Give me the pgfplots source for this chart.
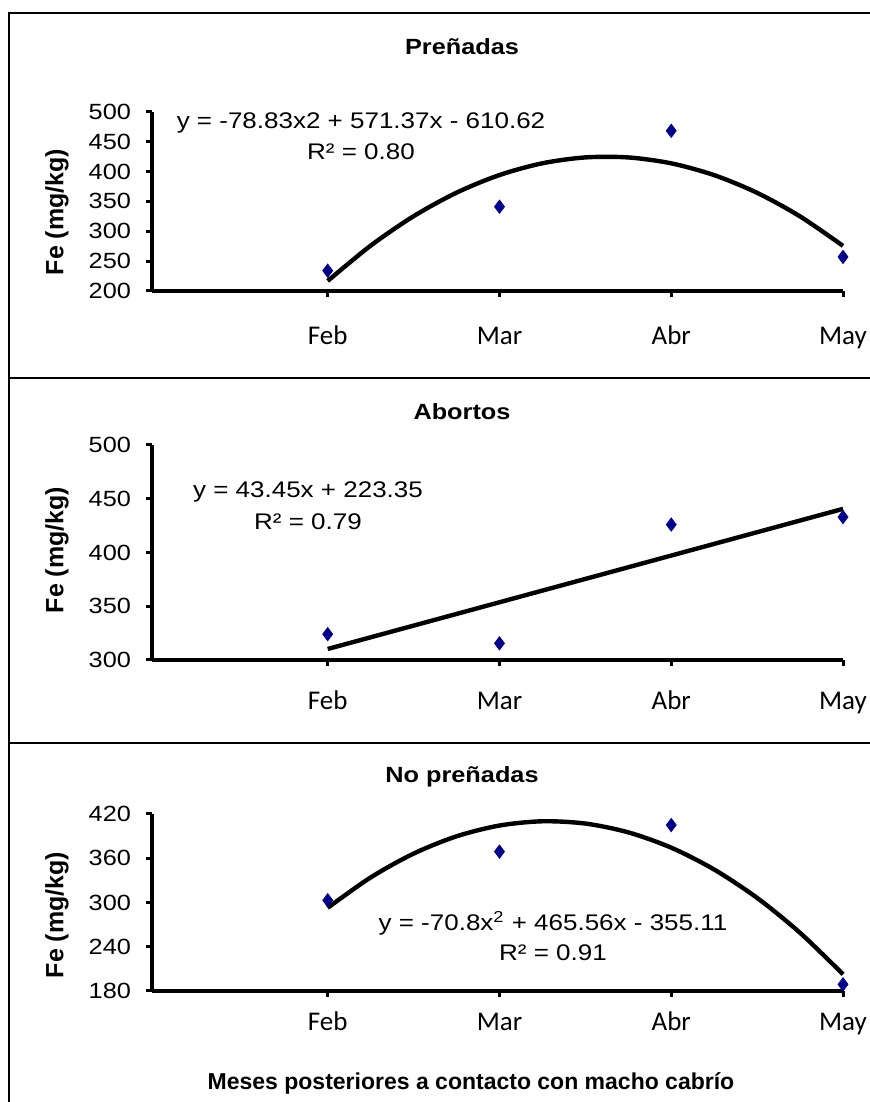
\documentclass[border=0pt]{standalone}
\usepackage{fontspec}
\usepackage{pgfplots}
\pgfplotsset{compat=1.18}
\setmainfont{Liberation Sans}
\newfontfamily\arialS[FakeStretch=1.15]{Liberation Sans}
\newfontfamily\calfont{Carlito}
\definecolor{mk}{RGB}{0,0,140}

\pgfplotstableread{
x y
2 234
3 341
4 468
5 257
}\prenpts
\pgfplotstableread{
x y
2 216.80
2.25 275.88
2.5 325.12
2.75 364.50
3 394.02
3.25 413.69
3.5 423.51
3.75 423.47
4 413.58
4.25 393.83
4.5 364.24
4.75 324.79
5 275.48
}\prenfit
\pgfplotstableread{
x y
2 324
3 315.5
4 426
5 433
}\abopts
\pgfplotstableread{
x y
2 310.25
5 440.60
}\abofit
\pgfplotstableread{
x y
2 303
3 369
4 405
5 189
}\nopts
\pgfplotstableread{
x y
2 292.81
2.25 333.97
2.5 366.29
2.75 389.75
3 404.37
3.25 410.13
3.5 407.05
3.75 395.11
4 374.33
4.25 344.69
4.5 306.21
4.75 258.87
5 202.69
}\nofit

\pgfplotsset{panel/.style={
  scale only axis, width=345.5pt, xmin=0.977, xmax=5,
  anchor=south west, clip=false,
  axis x line=bottom, axis y line=left,
  axis line style={-, line width=2pt, black},
  tick align=outside, major tick length=3pt,
  tick style={line width=1.5pt, black},
  xtick={2,3,4,5}, xticklabels={Feb,Mar,Abr,May},
  xticklabel style={font=\calfont\fontsize{13.5}{15}\selectfont, anchor=base},
  yticklabel style={font=\arialS\fontsize{11}{13}\selectfont, xshift=-4pt},
  /pgf/number format/assume math mode=true,
  scaled y ticks=false,
}}
\tikzset{
  mkstyle/.style={only marks, mark=diamond*, mark size=3.3pt, mark options={fill=mk, draw=mk}},
  fitstyle/.style={no marks, line width=2.2pt, black},
}

\begin{document}
\begin{tikzpicture}
\useasboundingbox (0,0) rectangle (435pt,551pt);
% frame
\draw[line width=1pt] (4.25pt,0) -- (4.25pt,544.25pt) -- (440pt,544.25pt);
\draw[line width=1pt] (4.25pt,362pt) -- (440pt,362pt);
\draw[line width=1pt] (4.25pt,179.5pt) -- (440pt,179.5pt);

% Panel 1
\begin{axis}[panel, at={(76pt,405.5pt)}, height=89.65pt, ymin=200, ymax=500,
  ytick={200,250,300,350,400,450,500}, xticklabel style={yshift=-23.9pt}]
\addplot[fitstyle, smooth] table {\prenfit};
\addplot[mkstyle] table {\prenpts};
\end{axis}
% Panel 2
\begin{axis}[panel, at={(76pt,221pt)}, height=107.5pt, ymin=300, ymax=500,
  ytick={300,350,400,450,500}, xticklabel style={yshift=-21.9pt}]
\addplot[fitstyle] table {\abofit};
\addplot[mkstyle] table {\abopts};
\end{axis}
% Panel 3
\begin{axis}[panel, at={(76pt,55.5pt)}, height=88.5pt, ymin=180, ymax=420,
  ytick={180,240,300,360,420}, xticklabel style={yshift=-16.9pt}]
\addplot[fitstyle, smooth] table {\nofit};
\addplot[mkstyle] table {\nopts};
\end{axis}

% titles
\node[font=\arialS\bfseries\fontsize{11}{13}\selectfont] at (231pt,527.5pt) {Preñadas};
\node[font=\arialS\bfseries\fontsize{11}{13}\selectfont] at (231pt,345pt) {Abortos};
\node[font=\arialS\bfseries\fontsize{11}{13}\selectfont] at (231pt,162.5pt) {No preñadas};
% y labels
\node[font=\bfseries\fontsize{12.5}{14}\selectfont, rotate=90] at (28.5pt,445pt) {Fe (mg/kg)};
\node[font=\bfseries\fontsize{12.5}{14}\selectfont, rotate=90] at (28.5pt,276pt) {Fe (mg/kg)};
\node[font=\bfseries\fontsize{12.5}{14}\selectfont, rotate=90] at (28.5pt,93.5pt) {Fe (mg/kg)};
% equations
\node[font=\arialS\fontsize{11.3}{13}\selectfont] at (180.5pt,489.5pt) {y = -78.83x2 + 571.37x - 610.62};
\node[font=\arialS\fontsize{11.3}{13}\selectfont] at (180.5pt,475pt) {R² = 0.80};
\node[font=\arialS\fontsize{11.3}{13}\selectfont] at (154pt,305pt) {y = 43.45x + 223.35};
\node[font=\arialS\fontsize{11.3}{13}\selectfont] at (154pt,290pt) {R² = 0.79};
\node[font=\arialS\fontsize{11.3}{13}\selectfont] at (276.5pt,89.5pt) {y = -70.8x\textsuperscript{2} + 465.56x - 355.11};
\node[font=\arialS\fontsize{11.3}{13}\selectfont] at (276.5pt,74.5pt) {R² = 0.91};
% x label
\node[font=\bfseries\fontsize{11.5}{13}\selectfont] at (235.5pt,9.5pt) {Meses posteriores a contacto con macho cabrío};
\end{tikzpicture}
\end{document}
